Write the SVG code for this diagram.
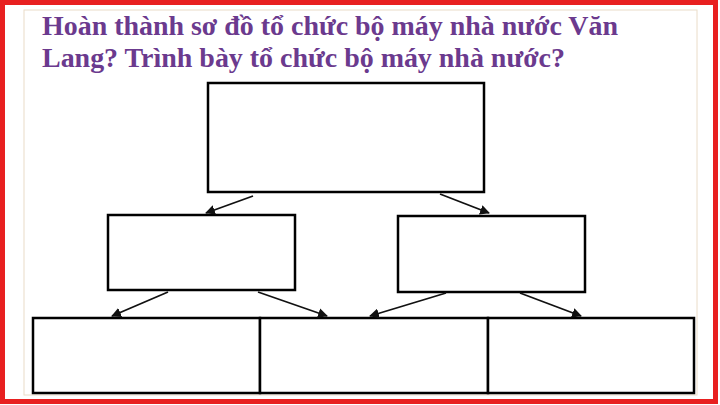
<svg xmlns="http://www.w3.org/2000/svg" width="720" height="405" viewBox="0 0 720 405">
<defs>
<style>
.box{fill:#ffffff;stroke:#000000;stroke-width:2.5}
.conn{stroke:#111111;stroke-width:1.8;fill:none;marker-end:url(#ah)}
.title{font-family:"Liberation Serif","Times New Roman",serif;font-weight:bold;font-size:27px;fill:#6b3a8e}
</style>
<marker id="ah" viewBox="0 0 10 10" refX="9" refY="5" markerWidth="5.5" markerHeight="5.5" orient="auto" markerUnits="strokeWidth">
<path d="M0,0 L10,5 L0,10 z" fill="#111111"/>
</marker>
</defs>
<rect x="0" y="0" width="720" height="405" fill="#ffffff"/>
<rect x="2.5" y="2.5" width="713" height="399" fill="none" stroke="#e82020" stroke-width="5"/>
<rect x="24" y="10" width="673" height="385" fill="#ffffff" stroke="#eadcc8" stroke-width="1"/>
<g id="title">
<text class="title" x="42" y="35" textLength="576" lengthAdjust="spacingAndGlyphs">Hoàn thành sơ đồ tổ chức bộ máy nhà nước Văn</text>
<text class="title" x="42" y="67" textLength="523" lengthAdjust="spacingAndGlyphs">Lang? Trình bày tổ chức bộ máy nhà nước?</text>
</g>
<g id="node-top"><rect class="box" x="208" y="83" width="276" height="109"/></g>
<g id="node-mid-left"><rect class="box" x="108" y="215" width="187" height="75"/></g>
<g id="node-mid-right"><rect class="box" x="398" y="216" width="187" height="76"/></g>
<g id="node-bottom-1"><rect class="box" x="33" y="318" width="227" height="75"/></g>
<g id="node-bottom-2"><rect class="box" x="260" y="318" width="228" height="75"/></g>
<g id="node-bottom-3"><rect class="box" x="488" y="318" width="206" height="75"/></g>
<g id="connectors">
<line class="conn" x1="253" y1="196" x2="206" y2="213"/>
<line class="conn" x1="440" y1="194" x2="489" y2="213"/>
<line class="conn" x1="168" y1="292" x2="112" y2="316"/>
<line class="conn" x1="258" y1="292" x2="327" y2="316"/>
<line class="conn" x1="446" y1="293" x2="370" y2="316"/>
<line class="conn" x1="520" y1="293" x2="581" y2="316"/>
</g>
</svg>
